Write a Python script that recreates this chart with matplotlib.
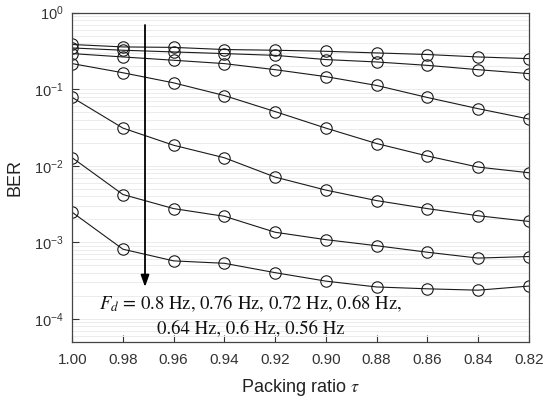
import numpy as np
import matplotlib
matplotlib.use("Agg")
import matplotlib.pyplot as plt
from matplotlib.ticker import LogLocator, FixedLocator, FixedFormatter, NullFormatter

plt.rcParams['font.family'] = ['Liberation Sans', 'DejaVu Sans']
plt.rcParams['mathtext.fontset'] = 'stix'

# Data
tau = [1.00, 0.98, 0.96, 0.94, 0.92, 0.90, 0.88, 0.86, 0.84, 0.82]
ber_080 = [0.384, 0.357, 0.352, 0.330, 0.323, 0.313, 0.298, 0.284, 0.264, 0.251]
ber_076 = [0.346, 0.323, 0.307, 0.292, 0.277, 0.244, 0.227, 0.205, 0.180, 0.160]
ber_072 = [0.292, 0.264, 0.239, 0.216, 0.180, 0.146, 0.112, 0.078, 0.0557, 0.0408]
ber_068 = [0.216, 0.164, 0.121, 0.0826, 0.051, 0.031, 0.0195, 0.0134, 0.0096, 0.0081]
ber_064 = [0.078, 0.031, 0.0185, 0.0127, 0.0071, 0.0048, 0.0035, 0.00275, 0.00222, 0.00187]
ber_060 = [0.0127, 0.0042, 0.00275, 0.00218, 0.00135, 0.00108, 0.00090, 0.00074, 0.00062, 0.00065]
ber_056 = [0.00246, 0.00081, 0.00057, 0.00053, 0.00040, 0.00031, 0.00026, 0.000246, 0.000236, 0.000267]
series = [ber_080, ber_076, ber_072, ber_068, ber_064, ber_060, ber_056]

xticks = [1.00, 0.98, 0.96, 0.94, 0.92, 0.90, 0.88, 0.86, 0.84, 0.82]
xticklabels = ['1.00', '0.98', '0.96', '0.94', '0.92', '0.90', '0.88', '0.86', '0.84', '0.82']
yticks = [1e-4, 1e-3, 1e-2, 1e-1, 1e0]
yticklabels = [r'$\mathregular{10^{-4}}$', r'$\mathregular{10^{-3}}$', r'$\mathregular{10^{-2}}$',
               r'$\mathregular{10^{-1}}$', r'$\mathregular{10^{0}}$']

fig = plt.figure(figsize=(5.43, 4.03), dpi=100)
ax = fig.add_axes([0.133, 0.152, 0.8407, 0.8165])

for s in series:
    ax.plot(tau, s, color='#1a1a1a', lw=0.8, marker='o', ms=8.2,
            mfc='none', mec='#1a1a1a', mew=0.8)

ax.set_yscale('log')
ax.set_ylim(5e-5, 1)
ax.set_xlim(1.00, 0.82)

ax.yaxis.set_major_locator(FixedLocator(yticks))
ax.yaxis.set_major_formatter(FixedFormatter(yticklabels))
ax.yaxis.set_minor_locator(LogLocator(base=10, subs=np.arange(2, 10), numticks=20))
ax.yaxis.set_minor_formatter(NullFormatter())
ax.set_xticks(xticks)
ax.set_xticklabels(xticklabels)

ax.grid(True, which='both', axis='y', color='#ececec', lw=0.7)
ax.set_axisbelow(True)

ax.tick_params(axis='both', which='major', direction='in', length=5, width=0.8,
               labelsize=10.5, colors='#333333', labelcolor='#333333', pad=6)
ax.tick_params(axis='y', which='minor', length=0)
ax.tick_params(axis='x', labelsize=11, pad=8)
for sp in ax.spines.values():
    sp.set_color('#444444')
    sp.set_linewidth(0.9)

ax.set_ylabel('BER', fontsize=13, color='#222222', labelpad=8)
ax.set_xlabel(r'Packing ratio $\tau$', fontsize=13, color='#222222', labelpad=7)

# Arrow
ax.annotate('', xy=(0.9713, 2.6e-4), xytext=(0.9713, 0.69),
            arrowprops=dict(arrowstyle='-|>,head_length=0.7,head_width=0.25',
                            color='black', lw=1.3, shrinkA=0, shrinkB=0))

ax.text(0.9297, 1.12e-4,
        r'$F_d$ = 0.8 Hz, 0.76 Hz, 0.72 Hz, 0.68 Hz,' + '\n' + '0.64 Hz, 0.6 Hz, 0.56 Hz',
        family='STIXGeneral', fontsize=13.5, ha='center', va='center',
        multialignment='center', linespacing=1.45, color='#111111')

fig.savefig('out.png', dpi=100)
